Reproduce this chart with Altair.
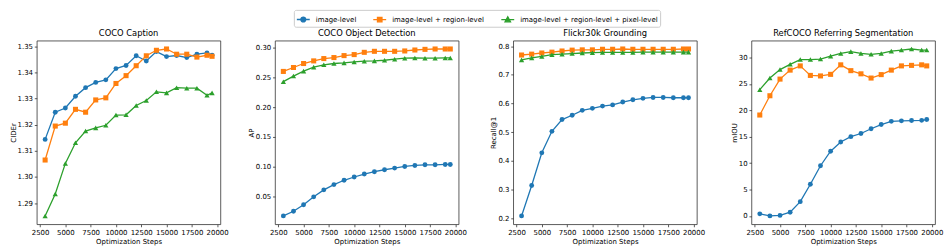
import altair as alt
import pandas as pd

FONT = "DejaVu Sans"

steps = [3000, 4000, 5000, 6000, 7000, 8000, 9000, 10000, 11000, 12000,
         13000, 14000, 15000, 16000, 17000, 18000, 19000, 19500]
x_ticks = [2500, 5000, 7500, 10000, 12500, 15000, 17500, 20000]

series_names = ["image-level", "image-level + region-level",
                "image-level + region-level + pixel-level"]
colors = ["#1f77b4", "#ff7f0e", "#2ca02c"]
shapes = ["circle", "square", "triangle-up"]
marker_sizes = [24, 26, 28]

caption_img = [1.3144, 1.3248, 1.3264, 1.3309, 1.3342, 1.3362, 1.3372, 1.3415, 1.3427,
               1.3464, 1.3444, 1.3480, 1.3461, 1.3465, 1.3457, 1.3470, 1.3475, 1.3466]
caption_reg = [1.3065, 1.3195, 1.3206, 1.3259, 1.3248, 1.3295, 1.3303, 1.3358, 1.3388,
               1.3426, 1.3464, 1.3485, 1.3490, 1.3470, 1.3470, 1.3459, 1.3466, 1.3462]
caption_pix = [1.2851, 1.2935, 1.3052, 1.3131, 1.3176, 1.3188, 1.3198, 1.3237, 1.3238,
               1.3274, 1.3293, 1.3326, 1.3322, 1.3342, 1.3340, 1.3340, 1.3313, 1.3322]

det_img = [0.0173, 0.0251, 0.0361, 0.0494, 0.0611, 0.0700, 0.0772, 0.0827, 0.0877,
           0.0916, 0.0949, 0.0977, 0.1004, 0.1021, 0.1032, 0.1032, 0.1038, 0.1038]
det_reg = [0.2601, 0.2667, 0.2734, 0.2778, 0.2817, 0.2834, 0.2867, 0.2884, 0.2922,
           0.2939, 0.2939, 0.2939, 0.2945, 0.2961, 0.2972, 0.2978, 0.2978, 0.2978]
det_pix = [0.2429, 0.2523, 0.2606, 0.2673, 0.2712, 0.2734, 0.2745, 0.2761, 0.2773,
           0.2778, 0.2789, 0.2806, 0.2823, 0.2828, 0.2823, 0.2823, 0.2828, 0.2828]

flickr_img = [0.208, 0.314, 0.428, 0.503, 0.544, 0.559, 0.576, 0.583, 0.591,
              0.595, 0.605, 0.613, 0.618, 0.621, 0.621, 0.620, 0.620, 0.620]
flickr_reg = [0.769, 0.772, 0.776, 0.779, 0.783, 0.786, 0.787, 0.787, 0.789,
              0.789, 0.790, 0.789, 0.789, 0.789, 0.789, 0.789, 0.790, 0.790]
flickr_pix = [0.752, 0.759, 0.764, 0.770, 0.772, 0.774, 0.776, 0.777, 0.778,
              0.778, 0.778, 0.778, 0.779, 0.779, 0.779, 0.779, 0.779, 0.779]

ref_img = [0.4, 0.0, 0.1, 0.7, 2.7, 6.0, 9.5, 12.25, 14.0,
           15.0, 15.6, 16.5, 17.3, 17.9, 18.0, 18.06, 18.1, 18.25]
ref_reg = [19.1, 22.75, 25.9, 27.6, 28.4, 26.6, 26.5, 26.8, 28.6,
           27.5, 26.9, 26.1, 26.75, 27.6, 28.4, 28.5, 28.6, 28.4]
ref_pix = [23.9, 26.1, 27.7, 28.7, 29.6, 29.6, 29.7, 30.25, 30.75,
           31.1, 30.75, 30.6, 30.75, 31.2, 31.4, 31.6, 31.4, 31.4]

panels = [
    dict(title="COCO Caption", ytitle="CIDEr", data=[caption_img, caption_reg, caption_pix],
         yticks=[1.29, 1.30, 1.31, 1.32, 1.33, 1.34, 1.35], fmt=".2f"),
    dict(title="COCO Object Detection", ytitle="AP", data=[det_img, det_reg, det_pix],
         yticks=[0.05, 0.10, 0.15, 0.20, 0.25, 0.30], fmt=".2f"),
    dict(title="Flickr30k Grounding", ytitle="Recall@1", data=[flickr_img, flickr_reg, flickr_pix],
         yticks=[0.2, 0.3, 0.4, 0.5, 0.6, 0.7, 0.8], fmt=".1f"),
    dict(title="RefCOCO Referring Segmentation", ytitle="mIOU", data=[ref_img, ref_reg, ref_pix],
         yticks=[0, 5, 10, 15, 20, 25, 30], fmt="d"),
]


def pad_domain(vals, frac=0.05):
    lo, hi = min(vals), max(vals)
    m = (hi - lo) * frac
    return [lo - m, hi + m]


# legend glyphs: short line with the marker on it (matplotlib-style handle)
legend_paths = [
    "M-1,0L1,0M-0.38,0A0.38,0.38,0,1,0,0.38,0A0.38,0.38,0,1,0,-0.38,0Z",
    "M-1,0L1,0M-0.35,-0.35L0.35,-0.35L0.35,0.35L-0.35,0.35Z",
    "M-1,0L1,0M0,-0.45L0.42,0.33L-0.42,0.33Z",
]

legend = alt.Legend(title=None, orient="none", legendX=259, legendY=-31,
                    direction="horizontal", columns=3, symbolSize=169,
                    symbolStrokeWidth=1.3, symbolOpacity=1, labelFont=FONT, labelFontSize=7,
                    labelColor="#000", labelOffset=5, columnPadding=14, padding=2,
                    strokeColor="#cccccc", cornerRadius=2, fillColor="white")

charts = []
for k, p in enumerate(panels):
    all_vals = [v for d in p["data"] for v in d]
    x = alt.X("step:Q", scale=alt.Scale(domain=pad_domain(steps), nice=False, zero=False),
              axis=alt.Axis(values=x_ticks, title="Optimization Steps", format="d",
                            labelOverlap=False, labelFlush=False))
    y = alt.Y("value:Q", scale=alt.Scale(domain=pad_domain(all_vals), nice=False, zero=False),
              axis=alt.Axis(values=p["yticks"], format=p["fmt"], title=p["ytitle"],
                            labelOverlap=False, labelFlush=False, titlePadding=1))
    color = alt.Color("series:N", scale=alt.Scale(domain=series_names, range=colors),
                      legend=None)
    layers = []
    if k == 0:
        # legend-only layer (its marks have zero size)
        df_all = pd.DataFrame({"step": steps * 3,
                               "value": [v for d in p["data"] for v in d],
                               "series": [s for s in series_names for _ in steps]})
        leg_layer = alt.Chart(df_all).mark_point(size=0, strokeWidth=1.3, opacity=1).encode(
            x=x, y=y,
            fill=alt.Fill("series:N", scale=alt.Scale(domain=series_names, range=colors),
                          legend=legend),
            stroke=alt.Stroke("series:N", scale=alt.Scale(domain=series_names, range=colors),
                              legend=legend),
            shape=alt.Shape("series:N", scale=alt.Scale(domain=series_names, range=legend_paths),
                            legend=legend),
        )
        layers.append(leg_layer)
    for i, s in enumerate(series_names):
        df = pd.DataFrame({"step": steps, "value": p["data"][i], "series": s})
        base = alt.Chart(df)
        layers.append(base.mark_line(strokeWidth=1.3).encode(x=x, y=y, color=color))
        layers.append(base.mark_point(filled=True, shape=shapes[i], size=marker_sizes[i],
                                      opacity=1).encode(x=x, y=y, color=color))
    charts.append(alt.layer(*layers).properties(width=185, height=185, title=p["title"]))

chart = alt.hconcat(*charts, spacing=55, bounds="flush").properties(
    padding={"left": 0, "top": 0, "right": 0, "bottom": 0}
).configure_view(
    stroke="#333333", strokeWidth=0.8
).configure_axis(
    labelFont=FONT, titleFont=FONT, labelFontSize=7, titleFontSize=7,
    titleFontWeight="normal", labelColor="#000", titleColor="#000",
    tickColor="#333333", tickSize=2.5, tickWidth=0.8, labelPadding=1.8,
    titlePadding=2, grid=False, domain=False
).configure_title(
    font=FONT, fontSize=8.4, fontWeight="normal", color="#000", offset=3
)

chart.save("out.html", embed_options={"renderer": "svg", "actions": False})
